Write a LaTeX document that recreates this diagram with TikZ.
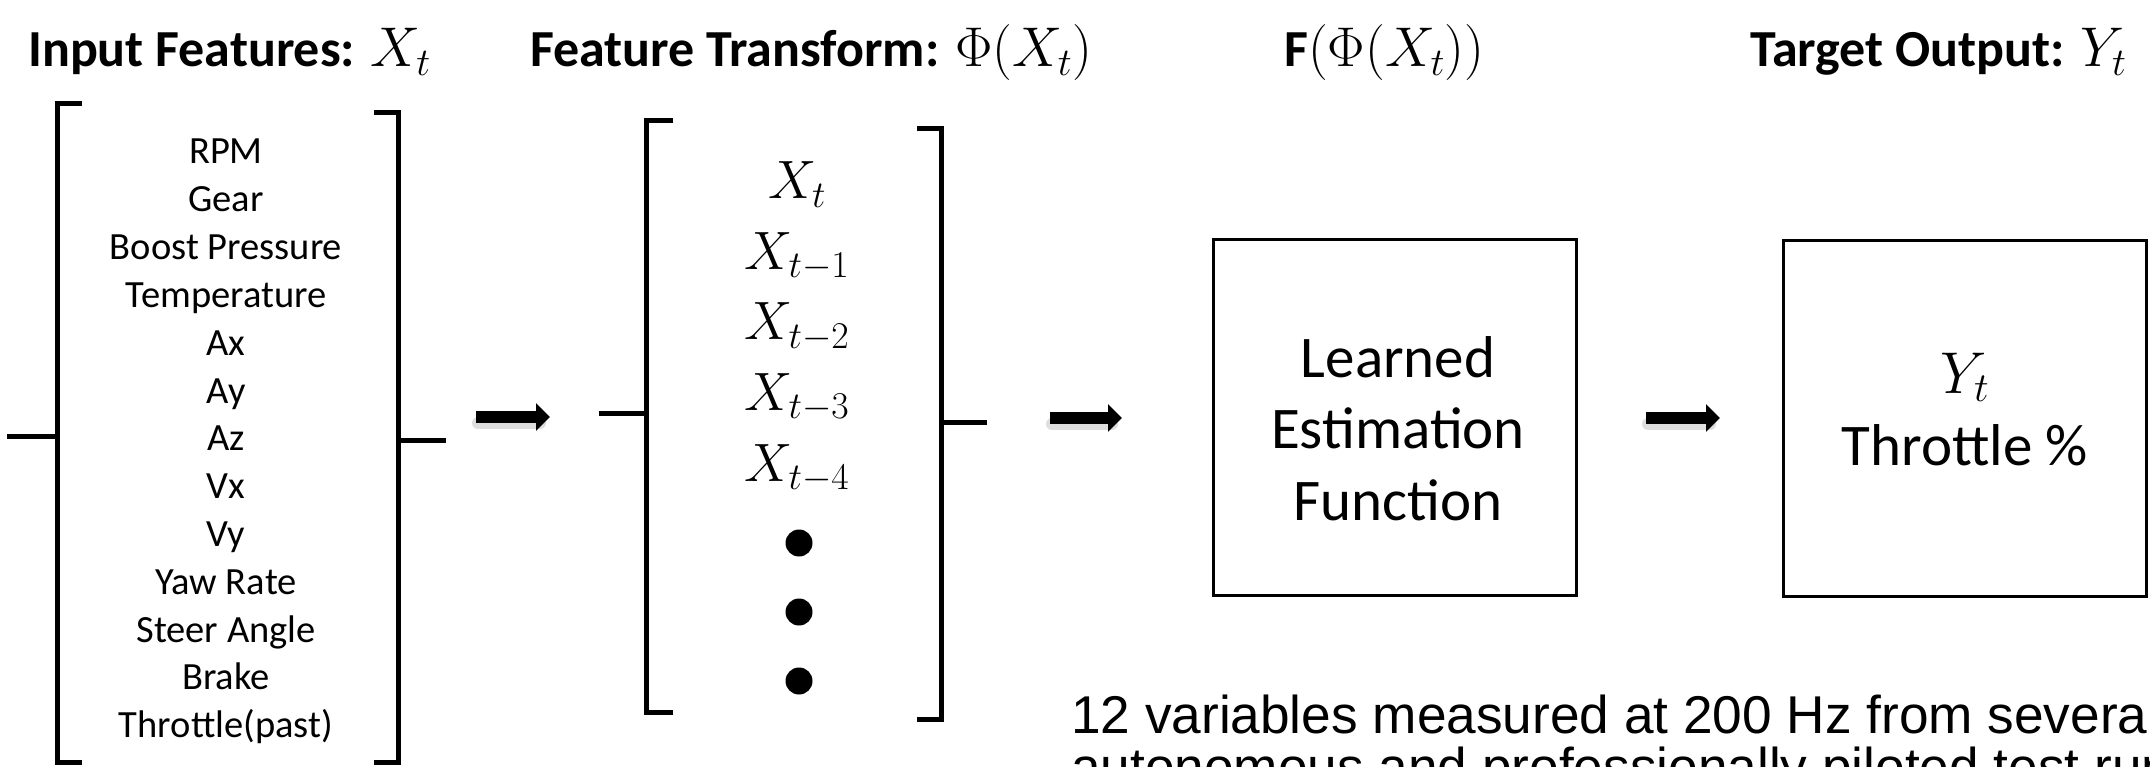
\RequirePackage{fix-cm}
\documentclass[tikz,border=0pt]{standalone}
\usepackage{fontspec}
\setmainfont{Carlito}
\newfontfamily\arialfont{Liberation Sans}
\usetikzlibrary{arrows.meta}
\begin{document}
\begin{tikzpicture}[x=1pt,y=-1pt,
  brk/.style={line width=5pt, line join=miter, line cap=butt},
  arr/.style={line width=12pt, -{Triangle[width=27pt,length=14pt]}},
  shad/.style={line width=12pt, black!13, line cap=round},
  ttl/.style={anchor=base west, inner sep=0pt, font=\fontsize{52}{60}\selectfont\bfseries},
  itm/.style={anchor=base, inner sep=0pt, font=\fontsize{38.5}{46}\selectfont},
  mth/.style={anchor=base, inner sep=0pt, font=\fontsize{54}{60}\selectfont},
  boxst/.style={draw, line width=3pt, minimum width=363pt, minimum height=355pt, inner sep=0pt},
  btx/.style={anchor=base, inner sep=0pt, font=\fontsize{59}{71}\selectfont},
  dotst/.style={circle, fill=black, minimum size=27pt, inner sep=0pt},
  note/.style={anchor=base west, inner sep=0pt, font=\arialfont\fontsize{53.2}{60}\selectfont}
]
\useasboundingbox (0,0) rectangle (2150,767);
\clip (0,0) rectangle (2150,767);
\fill[white] (0,0) rectangle (2150,767);

% titles
\node[ttl] (h1) at (28,67) {Input Features: {\fontsize{56}{60}\selectfont$X_t$}};
\node[ttl] (h2) at (530,67) {Feature Transform: {\fontsize{56}{60}\selectfont$\Phi(X_t)$}};
\node[ttl] (h3) at (1284,67) {F{\fontsize{56}{60}\selectfont$(\Phi(X_t))$}};
\node[ttl] (h4) at (1750,67) {Target Output: {\fontsize{56}{60}\selectfont$Y_t$}};

% left bracket
\draw[brk] (82,104) -- (57,104) -- (57,762) -- (82,762);
\draw[brk] (7,436) -- (57,436);
\draw[brk] (374,113) -- (398,113) -- (398,762) -- (374,762);
\draw[brk] (398,440) -- (446,440);
\foreach \t [count=\i from 0] in {RPM,Gear,Boost Pressure,Temperature,Ax,Ay,Az,Vx,Vy,Yaw Rate,Steer Angle,Brake,Throttle(past)}
  \node[itm] (it\i) at (226,{164+47.8*\i}) {\t};

% arrow 1
\coordinate (a1s) at (476,417);
\coordinate (a1e) at (550,417);
\draw[shad] ([shift={(2,6)}]a1s) -- ([shift={(-10,6)}]a1e);
\draw[arr] (a1s) -- (a1e);

% middle bracket
\draw[brk] (673,121) -- (646,121) -- (646,712) -- (673,712);
\draw[brk] (599,413) -- (646,413);
\draw[brk] (917,129) -- (941,129) -- (941,719) -- (917,719);
\draw[brk] (941,422) -- (987,422);
\node[mth] (x0) at (797,199) {$X_t$};
\node[mth] (x1) at (797,269.5) {$X_{t-1}$};
\node[mth] (x2) at (797,340) {$X_{t-2}$};
\node[mth] (x3) at (797,410.5) {$X_{t-3}$};
\node[mth] (x4) at (797,481) {$X_{t-4}$};
\node[dotst] (d1) at (799,543) {};
\node[dotst] (d2) at (799,612) {};
\node[dotst] (d3) at (799,681) {};

% arrow 2
\coordinate (a2s) at (1050,418);
\coordinate (a2e) at (1122,418);
\draw[shad] ([shift={(2,6)}]a2s) -- ([shift={(-10,6)}]a2e);
\draw[arr] (a2s) -- (a2e);

% box 1
\node[boxst] (b1) at (1394.5,417.5) {};
\node[btx] (l1) at (1398,377) {Learned};
\node[btx] (l2) at (1398,448) {Estimation};
\node[btx] (l3) at (1398,520) {Function};

% arrow 3
\coordinate (a3s) at (1646,418);
\coordinate (a3e) at (1720,418);
\draw[shad] ([shift={(2,6)}]a3s) -- ([shift={(-10,6)}]a3e);
\draw[arr] (a3s) -- (a3e);

% box 2
\node[boxst] (b2) at (1965,418.5) {};
\node[btx] (y1) at (1965,393) {$Y_t$};
\node[btx] (y2) at (1965,465) {Throttle \%};

% note
\node[note] (n1) at (1071,733) {12 variables measured at 200 Hz from several};
\node[note] (n2) at (1071,785) {autonomous and professionally piloted test runs};
\end{tikzpicture}
\end{document}
